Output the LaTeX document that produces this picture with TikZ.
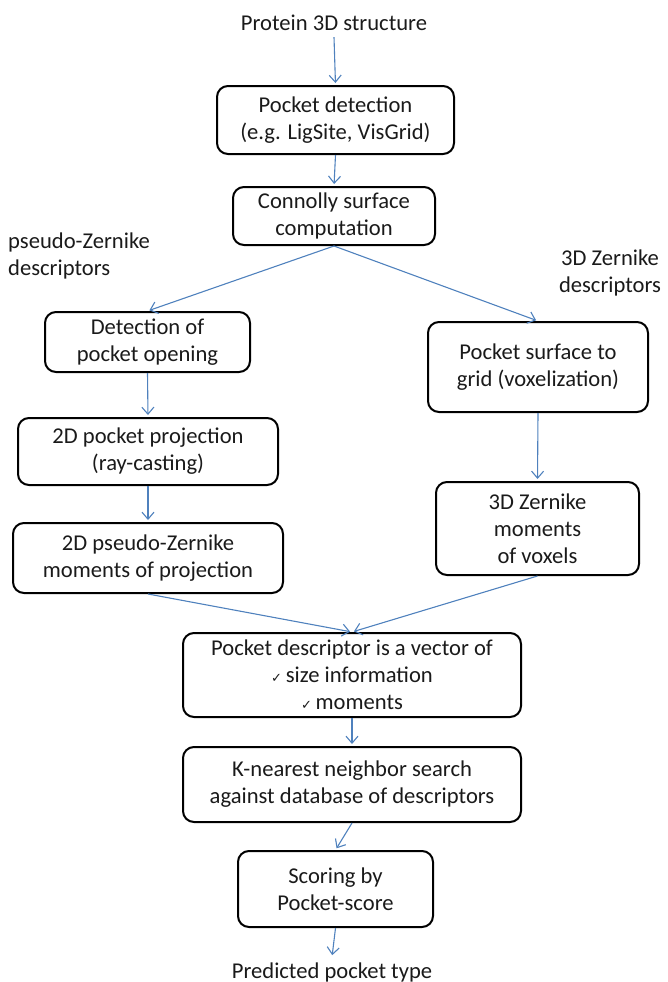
\documentclass[tikz,border=0pt]{standalone}
\usepackage{fontspec}
\setmainfont{Carlito}
\newfontfamily\dvfont{DejaVu Sans}
\usetikzlibrary{arrows.meta}
\definecolor{arrowblue}{RGB}{79,129,189}
\definecolor{textblack}{RGB}{26,26,26}
\newcommand\mycheck{{\dvfont\fontsize{13}{13}\selectfont ✓}\,}
\begin{document}
\begin{tikzpicture}[x=1pt,y=-1pt,
  txt/.style={align=center, inner sep=0pt, text=textblack, font=\fontsize{22.6}{27}\selectfont},
  box/.style={txt, draw=black, line width=2pt, rounded corners=11pt},
  flow/.style={draw=arrowblue, line width=1.1pt, shorten >=2pt, -{Straight Barb[length=7pt,width=12pt]}}]
\useasboundingbox (0,0) rectangle (668,982);
\node[txt] (title) at (334,23) {Protein 3D structure};
\node[box, minimum width=237pt, minimum height=68pt] (b1) at (335.5,120) {Pocket detection\\(e.g. LigSite, VisGrid)};
\node[box, minimum width=202pt, minimum height=58pt] (b2) at (334,216) {Connolly surface\\computation};
\node[txt, align=left, anchor=west] (pz) at (8,255.5) {pseudo-Zernike\\descriptors};
\node[txt] (zd) at (610,272.5) {3D Zernike\\descriptors};
\node[box, minimum width=205pt, minimum height=60pt] (b3) at (147.5,342) {Detection of\\pocket opening};
\node[box, minimum width=220pt, minimum height=90pt] (b4) at (538,367) {Pocket surface to\\grid (voxelization)};
\node[box, minimum width=260pt, minimum height=67pt] (b5) at (148,451.5) {2D pocket projection\\(ray-casting)};
\node[box, minimum width=270pt, minimum height=70pt] (b6) at (148,558) {2D pseudo-Zernike\\moments of projection};
\node[box, minimum width=203pt, minimum height=93pt] (b7) at (537.5,528.5) {3D Zernike\\moments\\of voxels};
\node[box, minimum width=338pt, minimum height=84pt] (b8) at (352,675) {Pocket descriptor is a vector of\\\mycheck size information\\\mycheck moments};
\node[box, minimum width=338pt, minimum height=75pt] (b9) at (352,784.5) {K-nearest neighbor search\\against database of descriptors};
\node[box, minimum width=195pt, minimum height=76pt] (b10) at (335.5,889) {Scoring by\\Pocket-score};
\node[txt] (out) at (332,972) {Predicted pocket type};
\draw[flow] ([yshift=-6pt]title.south) -- (b1.north);
\draw[flow] (b1.south) -- (b2.north);
\draw[flow] (b2.south) -- (b3.north);
\draw[flow] (b2.south) -- (b4.north);
\draw[flow] (b3.south) -- (b5.north);
\draw[flow] (b5.south) -- (b6.north);
\draw[flow] (b4.south) -- (b7.north);
\draw[flow] (b6.south) -- (b8.north);
\draw[flow] (b7.south) -- (b8.north);
\draw[flow] (b8.south) -- (b9.north);
\draw[flow] (b9.south) -- (b10.north);
\draw[flow] (b10.south) -- ([yshift=5pt]out.north);
\end{tikzpicture}
\end{document}
